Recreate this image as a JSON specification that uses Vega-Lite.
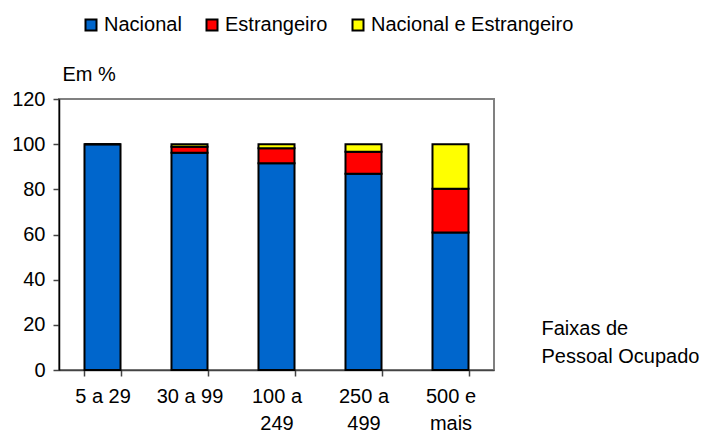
{
  "$schema": "https://vega.github.io/schema/vega-lite/v6.json",
  "width": 435,
  "height": 271,
  "autosize": "none",
  "padding": {"left": 59, "top": 99, "right": 225, "bottom": 67},
  "background": "white",
  "data": {
    "values": [
      {"faixa": "5 a 29", "origem": "Nacional", "ordem": 1, "valor": 100},
      {"faixa": "5 a 29", "origem": "Estrangeiro", "ordem": 2, "valor": 0},
      {"faixa": "5 a 29", "origem": "Nacional e Estrangeiro", "ordem": 3, "valor": 0},
      {"faixa": "30 a 99", "origem": "Nacional", "ordem": 1, "valor": 96.2},
      {"faixa": "30 a 99", "origem": "Estrangeiro", "ordem": 2, "valor": 2.7},
      {"faixa": "30 a 99", "origem": "Nacional e Estrangeiro", "ordem": 3, "valor": 1.1},
      {"faixa": "100 a 249", "origem": "Nacional", "ordem": 1, "valor": 91.5},
      {"faixa": "100 a 249", "origem": "Estrangeiro", "ordem": 2, "valor": 6.7},
      {"faixa": "100 a 249", "origem": "Nacional e Estrangeiro", "ordem": 3, "valor": 1.8},
      {"faixa": "250 a 499", "origem": "Nacional", "ordem": 1, "valor": 86.9},
      {"faixa": "250 a 499", "origem": "Estrangeiro", "ordem": 2, "valor": 9.7},
      {"faixa": "250 a 499", "origem": "Nacional e Estrangeiro", "ordem": 3, "valor": 3.4},
      {"faixa": "500 e mais", "origem": "Nacional", "ordem": 1, "valor": 60.9},
      {"faixa": "500 e mais", "origem": "Estrangeiro", "ordem": 2, "valor": 19.4},
      {"faixa": "500 e mais", "origem": "Nacional e Estrangeiro", "ordem": 3, "valor": 19.7}
    ]
  },
  "mark": {"type": "bar", "stroke": "black", "strokeWidth": 2},
  "encoding": {
    "x": {
      "field": "faixa",
      "type": "nominal",
      "sort": ["5 a 29", "30 a 99", "100 a 249", "250 a 499", "500 e mais"],
      "scale": {"paddingInner": 0.586, "paddingOuter": 0.293},
      "axis": {
        "title": ["Faixas de", "Pessoal Ocupado"],
        "titleAngle": 0,
        "titleAlign": "left",
        "titleBaseline": "alphabetic",
        "titleX": 482,
        "titleY": -36,
        "titleFont": "Liberation Sans",
        "titleFontSize": 20,
        "titleFontWeight": "normal",
        "titleColor": "black",
        "titleLineHeight": 28,
        "labelAngle": 0,
        "labelExpr": "length(datum.label) > 7 ? [slice(datum.label,0,5), slice(datum.label,6)] : datum.label",
        "labelFont": "Liberation Sans",
        "labelFontSize": 20,
        "labelColor": "black",
        "labelLineHeight": 27,
        "labelPadding": 10,
        "tickBand": "extent",
        "tickSize": 6,
        "tickColor": "#444",
        "tickWidth": 1.5,
        "domainColor": "#444",
        "domainWidth": 1.5
      }
    },
    "y": {
      "field": "valor",
      "type": "quantitative",
      "stack": "zero",
      "scale": {"domain": [0, 120]},
      "axis": {
        "title": "Em %",
        "titleAngle": 0,
        "titleAlign": "left",
        "titleBaseline": "alphabetic",
        "titleX": 3,
        "titleY": -19,
        "titleFont": "Liberation Sans",
        "titleFontSize": 20,
        "titleFontWeight": "normal",
        "titleColor": "black",
        "values": [0, 20, 40, 60, 80, 100, 120],
        "grid": false,
        "labelFont": "Liberation Sans",
        "labelFontSize": 20,
        "labelColor": "black",
        "tickSize": 6,
        "tickColor": "#444",
        "tickWidth": 1.5,
        "domainColor": "black",
        "domainWidth": 1.5,
        "labelPadding": 8
      }
    },
    "color": {
      "field": "origem",
      "type": "nominal",
      "sort": ["Nacional", "Estrangeiro", "Nacional e Estrangeiro"],
      "scale": {
        "domain": ["Nacional", "Estrangeiro", "Nacional e Estrangeiro"],
        "range": ["#0066CC", "#FF0000", "#FFFF00"]
      },
      "legend": {
        "title": null,
        "orient": "none",
        "direction": "horizontal",
        "legendX": 22,
        "legendY": -84,
        "symbolType": "square",
        "symbolSize": 121,
        "symbolStrokeColor": "black",
        "symbolStrokeWidth": 2,
        "symbolOpacity": 1,
        "labelFont": "Liberation Sans",
        "labelFontSize": 20,
        "labelColor": "black",
        "labelOffset": 3,
        "labelLimit": 400,
        "columnPadding": 20
      }
    },
    "order": {"field": "ordem", "type": "quantitative"}
  },
  "config": {
    "view": {"stroke": "#808080", "strokeWidth": 2}
  }
}
